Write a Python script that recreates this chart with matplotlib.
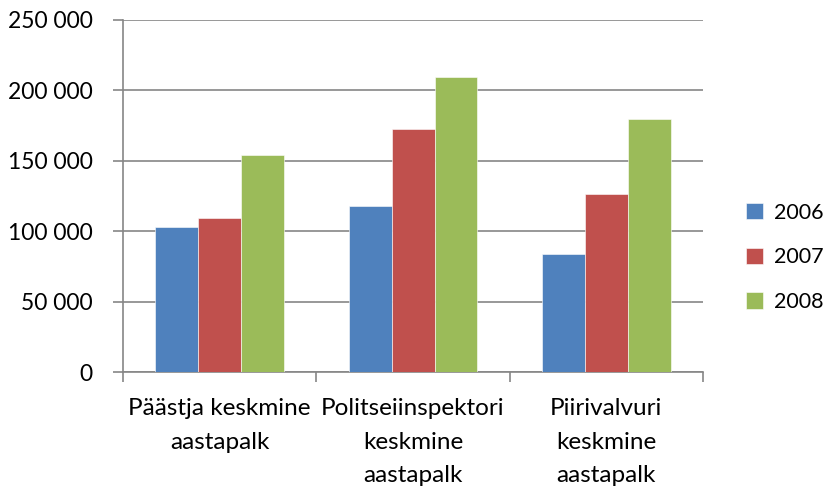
import matplotlib
matplotlib.use("Agg")
import matplotlib.pyplot as plt
import numpy as np

plt.rcParams['font.family'] = ['Lato', 'DejaVu Sans']

categories = ["Päästja keskmine\naastapalk",
              "Politseiinspektori\nkeskmine\naastapalk",
              "Piirivalvuri\nkeskmine\naastapalk"]
years = ["2006", "2007", "2008"]
v2006 = [102800, 117800, 83500]
v2007 = [109000, 172700, 126300]
v2008 = [154000, 209000, 179100]
colors = ["#4f81bd", "#c0504d", "#9bbb59"]
yticks = [0, 50000, 100000, 150000, 200000, 250000]
ytick_labels = ["0", "50 000", "100 000", "150 000", "200 000", "250 000"]

fig = plt.figure(figsize=(8.28, 4.93), dpi=100)
ax = fig.add_axes([0.1486, 0.2454, 0.7005, 0.7150])

x = np.arange(len(categories))
w = 0.222
for i, (vals, lab) in enumerate(zip([v2006, v2007, v2008], years)):
    ax.bar(x + (i - 1) * w, vals, width=w, color=colors[i], label=lab,
           edgecolor="white", linewidth=0.4, zorder=3)

ax.set_xlim(-0.5, len(categories) - 0.5)
ax.set_ylim(0, 250000)
ax.set_yticks(yticks)
ax.set_yticklabels(ytick_labels)
ax.grid(axis="y", color="#868686", linewidth=1.2, zorder=0)

ax.set_xticks(x)
ax.set_xticklabels(categories, linespacing=1.72)
ax.set_xticks(np.arange(len(categories) + 1) - 0.5, minor=True)
ax.tick_params(axis="x", which="major", length=0, pad=19, labelsize=17.5)
ax.tick_params(axis="x", which="minor", length=7, color="#868686", width=1.2)
ax.tick_params(axis="y", length=7, color="#868686", width=1.2, labelsize=16.5, pad=15)

for s in ["top", "right"]:
    ax.spines[s].set_visible(False)
for s in ["left", "bottom"]:
    ax.spines[s].set_color("#868686")
    ax.spines[s].set_linewidth(1.2)

leg = ax.legend(loc="center left", bbox_to_anchor=(1.04, 0.325), frameon=False,
                fontsize=15.5, handlelength=0.8, handleheight=0.8,
                handletextpad=0.5, labelspacing=1.15)

fig.savefig("out.png", dpi=100)
